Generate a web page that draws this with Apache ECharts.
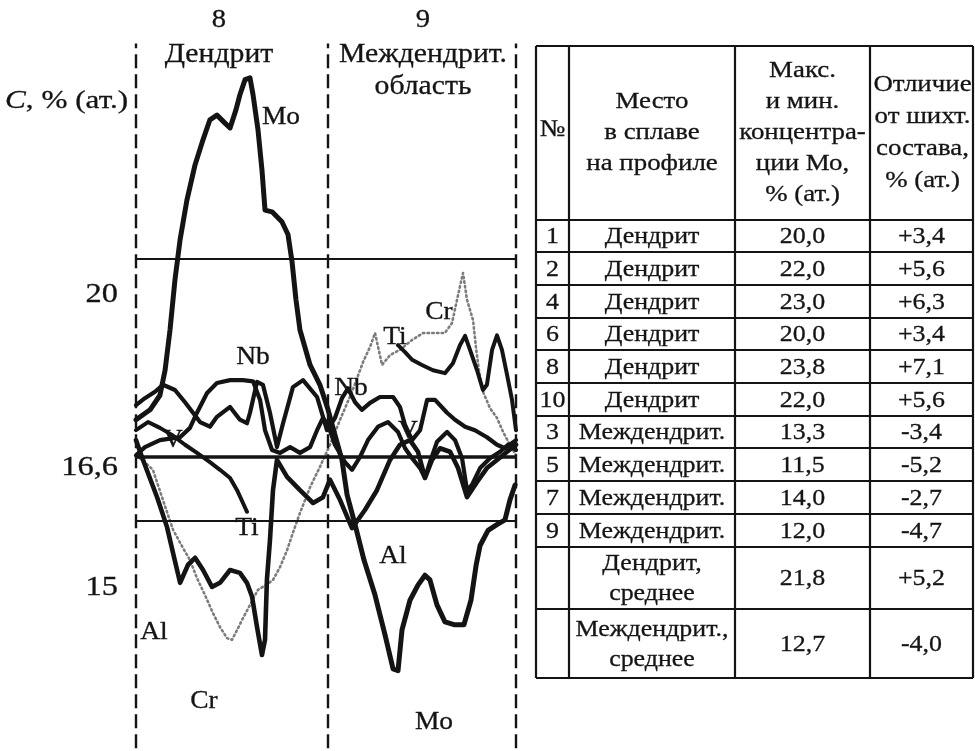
<!DOCTYPE html>
<html>
<head>
<meta charset="utf-8">
<script src="https://cdn.jsdelivr.net/npm/echarts@6/dist/echarts.min.js"></script>
<style>
  html, body { margin: 0; padding: 0; background: #fff; }
  #chart { width: 975px; height: 751px; }
</style>
</head>
<body>
<div id="chart"></div>
<script>
// Concentration profiles across dendrite 8 (0–101) and interdendritic region 9 (101–200);
// x = position along the profile, y = concentration, % (at.)
const moProfile = [
  [0, 17.24], [7.4, 17.41], [12.6, 17.66], [15.3, 18.09], [17.9, 18.78], [20.5, 19.64], [23.2, 20.33],
  [26.8, 21.01], [31.1, 21.62], [35.3, 22.05], [38.9, 22.39], [42.6, 22.47], [46.3, 22.35], [49.5, 22.25],
  [52.6, 22.56], [54.7, 22.82], [57.4, 23.08], [60.0, 23.11], [61.6, 22.82], [64.2, 22.22], [66.3, 21.53],
  [67.9, 20.84], [71.6, 20.81], [76.8, 20.64], [80.0, 20.42], [82.1, 19.96], [84.2, 19.30], [86.3, 18.78],
  [91.6, 18.18], [96.8, 17.84], [101.1, 17.41], [104.7, 16.98], [108.4, 16.55], [111.1, 15.95], [115.3, 15.44],
  [120.0, 14.83], [125.8, 14.23], [131.1, 13.54], [135.3, 12.96], [137.9, 12.93], [140.0, 13.63], [144.2, 14.14],
  [148.4, 14.40], [152.1, 14.57], [154.7, 14.49], [158.4, 14.06], [162.6, 13.77], [167.4, 13.72], [172.6, 13.72],
  [176.3, 14.14], [179.0, 14.74], [181.1, 15.08], [185.3, 15.34], [189.5, 15.43], [194.2, 15.52], [196.8, 15.86],
  [199.5, 16.12]
];
const alProfile = [
  [0, 16.89], [3.7, 16.55], [11.1, 15.91], [16.3, 15.40], [19.5, 14.95], [23.2, 14.44], [27.4, 14.75],
  [31.1, 14.87], [35.3, 14.66], [40.0, 14.37], [44.2, 14.44], [49.5, 14.66], [54.7, 14.61], [58.4, 14.44],
  [61.1, 14.20], [63.7, 13.68], [66.3, 13.20], [67.9, 13.46], [68.9, 14.49], [70.5, 15.17], [72.1, 16.03],
  [74.2, 16.55], [79.5, 16.26], [86.3, 16.03], [93.2, 15.81], [98.4, 15.91], [102.1, 16.21], [107.4, 15.86],
  [113.7, 15.38], [120.5, 15.69], [126.8, 16.03], [133.7, 16.55], [138.9, 16.81], [144.2, 16.89], [148.4, 16.69],
  [152.1, 16.24], [155.8, 16.55], [160.0, 16.75], [165.3, 16.69], [169.5, 16.41], [174.2, 15.91], [179.5, 16.17],
  [184.7, 16.41], [190.0, 16.55], [195.3, 16.69], [200, 16.81]
];
const nbProfile = [
  [0, 17.49], [4.7, 17.61], [10.0, 17.72], [14.2, 17.84], [20.5, 17.75], [25.8, 17.54], [30.0, 17.36],
  [33.7, 17.20], [38.9, 17.12], [42.6, 17.29], [49.5, 17.46], [54.7, 17.24], [58.4, 17.18], [60.0, 17.36],
  [63.7, 17.89], [66.8, 17.84], [70.5, 17.36], [74.2, 16.77], [77.4, 17.18], [82.6, 17.80], [87.9, 17.92],
  [95.3, 17.63], [100.5, 17.06], [104.7, 17.27], [108.4, 17.61], [111.6, 17.78], [115.3, 17.54], [118.9, 17.41],
  [123.2, 17.53], [128.4, 17.63], [135.3, 17.63], [138.9, 17.46], [141.6, 17.15], [145.3, 16.89], [149.5, 17.06],
  [153.2, 17.58], [157.4, 17.58], [163.7, 17.36], [167.9, 17.24], [173.2, 17.12], [178.4, 17.06], [184.7, 16.94],
  [190.0, 16.81], [194.2, 16.75], [200, 16.89]
];
const vProfile = [
  [0, 16.63], [4.7, 16.77], [12.6, 16.89], [23.2, 16.94], [28.4, 17.10], [32.1, 17.36], [37.4, 17.70],
  [42.6, 17.87], [49.5, 17.92], [56.3, 17.92], [61.6, 17.90], [65.3, 17.58], [67.9, 17.06], [71.6, 16.72],
  [75.8, 16.67], [81.1, 16.77], [86.3, 16.67], [91.6, 16.77], [95.3, 17.06], [98.4, 17.27], [101.1, 17.15],
  [104.7, 16.81], [110.0, 16.51], [113.7, 16.38], [117.9, 16.60], [122.1, 16.89], [127.4, 17.12], [132.6, 17.20],
  [137.9, 17.03], [141.6, 16.75], [145.3, 16.58], [149.5, 16.41], [152.1, 16.24], [154.7, 16.51], [158.4, 16.86],
  [163.7, 17.03], [167.9, 16.89], [171.6, 16.58], [174.2, 16.03], [176.8, 16.12], [181.1, 16.41], [186.3, 16.58],
  [191.6, 16.69], [195.8, 16.81], [200, 16.72]
];
const tiProfile = [
  [0, 17.06], [6.3, 17.20], [12.6, 17.10], [18.9, 16.98], [25.8, 16.81], [32.1, 16.67], [38.9, 16.51],
  [44.2, 16.38], [49.5, 16.24], [53.2, 16.03], [56.3, 15.81], [58.4, 15.66],
  null,
  [137.9, 18.52], [141.6, 18.40], [145.3, 18.27], [150.5, 18.18], [156.3, 18.09], [162.6, 18.04], [166.8, 18.21],
  [170.5, 18.52], [173.2, 18.68], [175.8, 18.44], [179.5, 18.09], [182.6, 17.75], [184.7, 17.84], [187.4, 18.44],
  [190.0, 18.69], [192.6, 18.44], [195.3, 18.01], [197.9, 17.58], [200, 17.06]
];
const crProfile = [
  [0, 16.63], [4.7, 16.51], [8.9, 16.38], [14.2, 15.86], [19.5, 15.35], [24.7, 15.04], [28.4, 14.83],
  [32.1, 14.52], [36.3, 14.23], [40.5, 13.92], [44.2, 13.68], [47.9, 13.49], [50.5, 13.46], [53.2, 13.63],
  [55.8, 13.80], [60.0, 14.06], [64.2, 14.32], [68.4, 14.40], [72.1, 14.49], [75.8, 14.71], [79.5, 15.00],
  [82.6, 15.30], [86.3, 15.64], [91.6, 16.08], [96.8, 16.43], [102.1, 16.81], [107.4, 17.24], [113.7, 17.72],
  [119.5, 18.23], [123.2, 18.49], [125.8, 18.73], [129.5, 18.18], [133.7, 18.35], [138.9, 18.44], [145.3, 18.61],
  [151.1, 18.73], [157.4, 18.73], [162.6, 18.73], [166.3, 18.90], [169.5, 19.38], [172.1, 19.76], [174.2, 19.30],
  [177.4, 18.95], [178.9, 18.49], [180.5, 18.09], [182.6, 17.72], [186.3, 17.44], [190.0, 17.27], [193.2, 17.03],
  [196.8, 16.81], [200, 16.63]
];

// Reference levels, zone borders and axis captions
const refLevels = [20, 16.6, 15.5];
const yTickLabels = ['20', '16,6', '15'];
const zoneBounds = [0, 101, 200];
const zoneNumbers = ['8', '9'];
const zoneNames = ['Дендрит', 'Междендрит.\nобласть'];

// Table: maximum and minimum Mo concentration in the alloy
const tblHead = ['№', 'Место\nв сплаве\nна профиле', 'Макс.\nи мин.\nконцентра-\nции Мо,\n% (ат.)', 'Отличие\nот шихт.\nсостава,\n% (ат.)'];
const tblNo = ['1', '2', '4', '6', '8', '10', '3', '5', '7', '9', '', ''];
const tblPlace = ['Дендрит', 'Дендрит', 'Дендрит', 'Дендрит', 'Дендрит', 'Дендрит',
  'Междендрит.', 'Междендрит.', 'Междендрит.', 'Междендрит.', 'Дендрит,\nсреднее', 'Междендрит.,\nсреднее'];
const tblMo = ['20,0', '22,0', '23,0', '20,0', '23,8', '22,0', '13,3', '11,5', '14,0', '12,0', '21,8', '12,7'];
const tblDiff = ['+3,4', '+5,6', '+6,3', '+3,4', '+7,1', '+5,6', '-3,4', '-5,2', '-2,7', '-4,7', '+5,2', '-4,0'];

const FONT = "'Liberation Serif','DejaVu Serif','Times New Roman',serif";
const INK = '#141414';
const SX = 1.1;

const chart = echarts.init(document.getElementById('chart'), null, { renderer: 'canvas' });

function txt(text, x, y, size, opts) {
  opts = opts || {};
  return {
    type: 'text', x: x, y: y, scaleX: opts.sx || SX, silent: true, z: 100,
    style: Object.assign({
      text: text, fill: INK, fontFamily: FONT, fontSize: size,
      stroke: INK, lineWidth: 0.3,
      align: opts.align || 'center', verticalAlign: 'middle',
      lineHeight: opts.lineHeight || Math.round(size * 1.25)
    }, opts.extra || {})
  };
}
function seg(x1, y1, x2, y2, w) {
  return { type: 'line', silent: true, z: 90, shape: { x1, y1, x2, y2 }, style: { stroke: INK, lineWidth: w } };
}

// Table layout
const colEdges = [536, 569, 735, 870, 973];
const rowEdges = [46, 220, 252, 285, 318, 350, 383, 416, 448, 481, 514, 547, 609, 678];
function buildTable() {
  const g = [];
  rowEdges.forEach(y => g.push(seg(colEdges[0], y, colEdges[colEdges.length - 1], y, 2.2)));
  colEdges.forEach(x => g.push(seg(x, rowEdges[0], x, rowEdges[rowEdges.length - 1], 2.2)));
  const cx = i => (colEdges[i] + colEdges[i + 1]) / 2;
  const headY = (rowEdges[0] + rowEdges[1]) / 2;
  const headLH = [31, 31, 31, 32];
  tblHead.forEach((h, i) => g.push(txt(h, cx(i) + (i === 3 ? 1 : 0), i === 0 ? headY - 3 : headY, 24,
    { lineHeight: headLH[i], sx: 1.12 })));
  for (let r = 0; r < tblNo.length; r++) {
    const cy = (rowEdges[r + 1] + rowEdges[r + 2]) / 2 + 1;
    [tblNo[r], tblPlace[r], tblMo[r], tblDiff[r]].forEach((t, i) => {
      if (t) g.push(txt(t, cx(i), cy, 24, { lineHeight: 30, sx: 1.08 }));
    });
  }
  return g;
}

// Element tags placed beside their curves
const elementTags = [
  ['Mo', 281, 117], ['Nb', 253, 357], ['V', 173, 440], ['Ti', 247, 528], ['Al', 154, 632], ['Cr', 204, 701],
  ['Nb', 351, 388], ['Ti', 395, 337], ['Cr', 439, 312], ['V', 408, 431], ['Al', 393, 556], ['Mo', 434, 722]
];

function buildGraphics() {
  const g = [];
  // zone captions
  const zoneCx = [219, 423];
  zoneNumbers.forEach((n, i) => g.push(txt(n, zoneCx[i], 20, 26)));
  zoneNames.forEach((n, i) => g.push(txt(n, zoneCx[i], i === 0 ? 55 : 71, 27, { lineHeight: 32 })));
  // axis caption and tick labels
  g.push(txt('{i|C}, % (ат.)', 5, 101, 26, {
    align: 'left', sx: 1.2,
    extra: { rich: { i: { fontStyle: 'italic', fontFamily: FONT, fontSize: 26, fill: INK } } }
  }));
  const tickY = [295, 468, 588];
  yTickLabels.forEach((t, i) => g.push(txt(t, 118, tickY[i], 27, { align: 'right', sx: 1.2 })));
  elementTags.forEach(([t, x, y]) => g.push(txt(t, x, y, 25)));
  return g.concat(buildTable());
}

function curve(name, data, width, style) {
  return {
    type: 'line', name: name, data: data, showSymbol: false, symbol: 'none', silent: true,
    connectNulls: false, animation: false,
    lineStyle: Object.assign({ color: INK, width: width, join: 'round', cap: 'round' }, style || {})
  };
}

const option = {
  backgroundColor: '#ffffff',
  animation: false,
  grid: { left: 136, right: 459, top: 43.5, bottom: 2.8 },
  xAxis: { type: 'value', min: 0, max: 200, show: false },
  yAxis: { type: 'value', min: 11.6, max: 23.7, show: false },
  series: [
    {
      type: 'line', name: 'guides', data: [], silent: true,
      markLine: {
        silent: true, symbol: 'none', animation: false,
        label: { show: false },
        data: [
          ...zoneBounds.map(x => ({ xAxis: x, lineStyle: { color: INK, width: 2.4, type: [14, 6] } })),
          ...refLevels.map((y, i) => ({ yAxis: y, lineStyle: { color: INK, width: i === 1 ? 3.5 : 2.2, type: 'solid' } }))
        ]
      }
    },
    curve('Cr', crProfile, 2.6, { color: '#7c7c7c', type: [1.5, 3.2] }),
    curve('Ti', tiProfile, 4),
    curve('V', vProfile, 4.2),
    curve('Nb', nbProfile, 4.2),
    curve('Al', alProfile, 4.6),
    curve('Mo', moProfile, 5)
  ],
  graphic: buildGraphics()
};
chart.setOption(option);
</script>
</body>
</html>
